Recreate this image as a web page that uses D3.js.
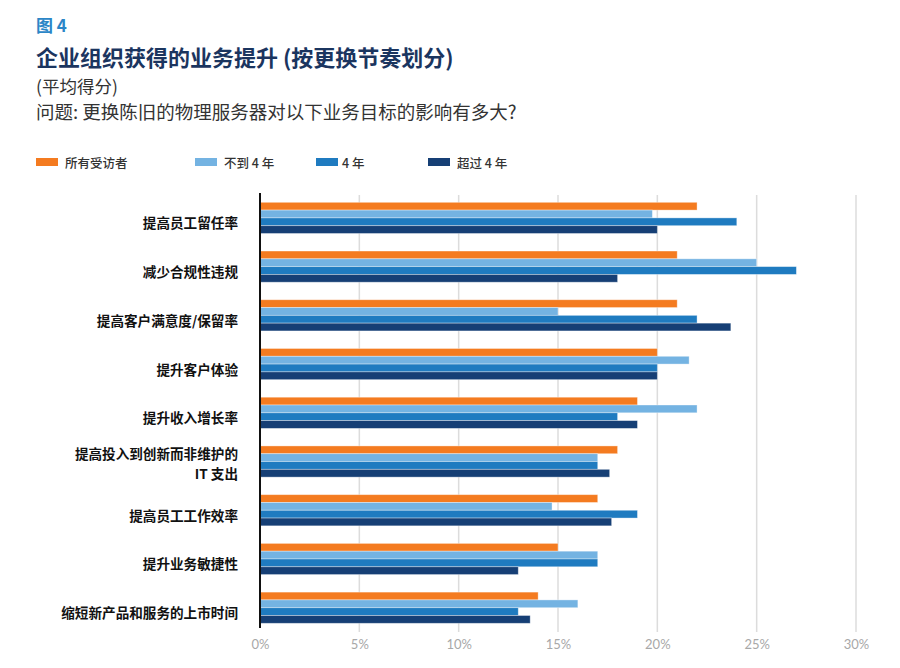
<!DOCTYPE html>
<html>
<head>
<meta charset="utf-8">
<script src="https://cdn.jsdelivr.net/npm/d3@7"></script>
<style>
  html, body { margin: 0; padding: 0; background: #fff; }
  svg { display: block; }
</style>
</head>
<body>
<svg id="chart" width="900" height="668"></svg>
<script>
// ---- data ----
const categories = [
  "提高员工留任率",
  "减少合规性违规",
  "提高客户满意度/保留率",
  "提升客户体验",
  "提升收入增长率",
  "提高投入到创新而非维护的\nIT 支出",
  "提高员工工作效率",
  "提升业务敏捷性",
  "缩短新产品和服务的上市时间"
];
const seriesNames = ["所有受访者", "不到 4 年", "4 年", "超过 4 年"];
const allRespondents = [22, 21, 21, 20, 19, 18, 17, 15, 14];
const lessThan4 = [19.75, 25, 15, 21.6, 22, 17, 14.7, 17, 16];
const four = [24, 27, 22, 20, 18, 17, 19, 17, 13];
const moreThan4 = [20, 18, 23.7, 20, 19, 17.6, 17.7, 13, 13.6];
const tickValues = [0, 5, 10, 15, 20, 25, 30];
const tickLabels = ["0%", "5%", "10%", "15%", "20%", "25%", "30%"];
const seriesColors = ["#F47B20", "#74B3E2", "#1F7BC0", "#163F75"];

const seriesValues = [allRespondents, lessThan4, four, moreThan4];
const rows = categories.map((c, i) => ({
  category: c,
  values: seriesNames.map((s, j) => ({ key: s, value: seriesValues[j][i], color: seriesColors[j] }))
}));

const svg = d3.select("#chart");
const cjk = "'Noto Sans CJK SC', 'Noto Sans', sans-serif";
const latin = "Lato, 'Noto Sans CJK SC', sans-serif";

// ---- titles ----
svg.append("text").attr("x", 36).attr("y", 32)
  .attr("font-family", cjk).attr("font-size", 17).attr("font-weight", 700)
  .attr("fill", "#2B86C7").text("图 4");
svg.append("text").attr("x", 36).attr("y", 66)
  .attr("font-family", cjk).attr("font-size", 22).attr("font-weight", 700)
  .attr("fill", "#1B355F").text("企业组织获得的业务提升 (按更换节奏划分)");
svg.append("text").attr("x", 36).attr("y", 93)
  .attr("font-family", cjk).attr("font-size", 17.5).attr("font-weight", 400)
  .attr("fill", "#333").text("(平均得分)");
svg.append("text").attr("x", 36).attr("y", 119)
  .attr("font-family", cjk).attr("font-size", 18.5).attr("font-weight", 400)
  .attr("fill", "#333").text("问题: 更换陈旧的物理服务器对以下业务目标的影响有多大?");

// ---- legend ----
const legendX = [36, 195, 316, 428];
const legend = svg.append("g");
seriesNames.forEach((s, i) => {
  legend.append("rect").attr("x", legendX[i]).attr("y", 158).attr("width", 22).attr("height", 8)
    .attr("fill", seriesColors[i]);
  legend.append("text").attr("x", legendX[i] + (i === 2 ? 26 : 29)).attr("y", 162)
    .attr("dominant-baseline", "central")
    .attr("font-family", cjk).attr("font-size", 12.5).attr("font-weight", 500)
    .attr("fill", "#333").text(s);
});

// ---- scales ----
const x = d3.scaleLinear().domain([0, 30]).range([260, 856]);
const y = d3.scaleBand().domain(categories).range([202.3, 623.3]).paddingInner(0.36).paddingOuter(0);
const ySub = d3.scaleBand().domain(seriesNames).range([0, y.bandwidth()]).padding(0);

// ---- gridlines ----
svg.append("g").selectAll("line")
  .data(tickValues.filter(v => v > 0))
  .join("line")
  .attr("x1", d => x(d)).attr("x2", d => x(d))
  .attr("y1", 195).attr("y2", 632)
  .attr("stroke", "#dcdcdc").attr("stroke-width", 1.5);

// ---- bars ----
const groups = svg.append("g").selectAll("g")
  .data(rows)
  .join("g")
  .attr("transform", d => `translate(0,${y(d.category)})`);
groups.selectAll("rect")
  .data(d => d.values)
  .join("rect")
  .attr("x", x(0))
  .attr("y", d => ySub(d.key))
  .attr("width", d => x(d.value) - x(0))
  .attr("height", ySub.bandwidth())
  .attr("fill", d => d.color)
  .attr("stroke", "rgba(255,255,255,0.45)")
  .attr("stroke-width", 0.8);

// ---- axis line ----
svg.append("line").attr("x1", x(0)).attr("x2", x(0)).attr("y1", 193).attr("y2", 628)
  .attr("stroke", "#111").attr("stroke-width", 2);

// ---- x axis labels ----
const xAxis = d3.axisBottom(x).tickValues(tickValues)
  .tickFormat((d, i) => tickLabels[i]).tickSize(0).tickPadding(0);
const xa = svg.append("g").attr("transform", "translate(0,640)").call(xAxis);
xa.select(".domain").remove();
xa.selectAll("text").attr("font-family", latin).attr("font-size", 13)
  .attr("fill", "#a8a8a8").attr("dy", "0.71em");

// ---- category labels ----
const labelG = svg.append("g");
categories.forEach(d => {
  const lines = d.split("\n");
  const cy = y(d) + y.bandwidth() / 2;
  const startY = lines.length === 1 ? cy + 4.5 : cy - 8.6;
  lines.forEach((l, k) => {
    labelG.append("text")
      .attr("x", 238).attr("y", startY + k * 20)
      .attr("text-anchor", "end").attr("dominant-baseline", "central")
      .attr("font-family", cjk).attr("font-size", 13.6).attr("font-weight", 700)
      .attr("fill", "#111").text(l);
  });
});
</script>
</body>
</html>
